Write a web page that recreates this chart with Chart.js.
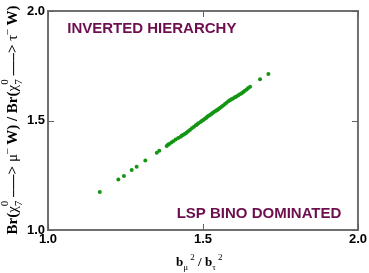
<!DOCTYPE html>
<html>
<head>
<meta charset="utf-8">
<script src="https://cdn.jsdelivr.net/npm/chart.js@4.4.1/dist/chart.umd.min.js"></script>
<style>
  html, body { margin: 0; padding: 0; background: #ffffff; }
  #wrap { width: 369px; height: 273px; position: relative; }
</style>
</head>
<body>
<div id="wrap"><canvas id="c" width="369" height="273"></canvas></div>
<script>
// ---- data ----
const ratioB = [1.167, 1.227, 1.245, 1.270, 1.286, 1.314, 1.351, 1.359, 1.383, 1.387, 1.391, 1.398, 1.404, 1.412, 1.420, 1.428, 1.432, 1.437, 1.442, 1.447, 1.452, 1.458, 1.464, 1.471, 1.477, 1.481, 1.485, 1.492, 1.496, 1.501, 1.505, 1.510, 1.513, 1.517, 1.521, 1.525, 1.529, 1.533, 1.538, 1.542, 1.546, 1.549, 1.554, 1.560, 1.565, 1.571, 1.576, 1.582, 1.587, 1.592, 1.597, 1.603, 1.608, 1.614, 1.619, 1.625, 1.630, 1.635, 1.641, 1.646, 1.652, 1.684, 1.711];
const ratioBr = [1.173, 1.231, 1.247, 1.274, 1.289, 1.317, 1.353, 1.362, 1.384, 1.389, 1.393, 1.399, 1.405, 1.413, 1.420, 1.426, 1.431, 1.435, 1.440, 1.444, 1.451, 1.457, 1.465, 1.472, 1.478, 1.482, 1.487, 1.493, 1.498, 1.502, 1.507, 1.511, 1.516, 1.521, 1.524, 1.527, 1.532, 1.536, 1.541, 1.545, 1.548, 1.551, 1.557, 1.563, 1.569, 1.575, 1.581, 1.588, 1.592, 1.597, 1.601, 1.606, 1.610, 1.615, 1.620, 1.624, 1.630, 1.636, 1.642, 1.648, 1.654, 1.688, 1.712];
const xTicks = [1.0, 1.5, 2.0];
const yTicks = [1.0, 1.5, 2.0];
const notes = [
  { text: 'INVERTED HIERARCHY', x: 1.062, y: 1.920 },
  { text: 'LSP BINO DOMINATED', x: 1.415, y: 1.075 }
];

const points = ratioB.map((v, i) => ({ x: v, y: ratioBr[i] }));

const SERIF = '"Liberation Serif", "Times New Roman", serif';
const SANS = '"Liberation Sans", Arial, Helvetica, sans-serif';

function richWidth(ctx, segs) {
  let w = 0;
  for (const s of segs) {
    ctx.font = s.font;
    if (s.t !== undefined) w += ctx.measureText(s.t).width;
    else w += Math.max(ctx.measureText(s.sup).width, ctx.measureText(s.sub).width);
  }
  return w;
}
function drawRich(ctx, segs, x, y) {
  let cx = x;
  ctx.textBaseline = 'alphabetic';
  ctx.textAlign = 'left';
  for (const s of segs) {
    ctx.font = s.font;
    if (s.t !== undefined) {
      ctx.fillText(s.t, cx, y + (s.dy || 0));
      cx += ctx.measureText(s.t).width;
    } else {
      ctx.fillText(s.sup, cx, y - s.up);
      ctx.fillText(s.sub, cx, y + s.down);
      cx += Math.max(ctx.measureText(s.sup).width, ctx.measureText(s.sub).width);
    }
  }
}

const frame = {
  id: 'frame',
  beforeDatasetsDraw(chart) {
    const { ctx, chartArea: a, scales } = chart;
    ctx.save();
    ctx.strokeStyle = '#707070';
    ctx.lineWidth = 2;
    ctx.strokeRect(a.left, a.top, a.right - a.left, a.bottom - a.top);
    ctx.lineWidth = 1;
    ctx.strokeStyle = '#606060';
    const L = 6;
    for (const v of xTicks) {
      const px = Math.round(scales.x.getPixelForValue(v)) + 0.5;
      ctx.beginPath();
      ctx.moveTo(px, a.bottom); ctx.lineTo(px, a.bottom - L);
      ctx.moveTo(px, a.top); ctx.lineTo(px, a.top + L);
      ctx.stroke();
    }
    for (const v of yTicks) {
      const py = Math.round(scales.y.getPixelForValue(v)) + 0.5;
      ctx.beginPath();
      ctx.moveTo(a.left, py); ctx.lineTo(a.left + L, py);
      ctx.moveTo(a.right, py); ctx.lineTo(a.right - L, py);
      ctx.stroke();
    }
    ctx.fillStyle = '#6d0f4e';
    ctx.font = 'bold 15px ' + SANS;
    ctx.textAlign = 'left';
    ctx.textBaseline = 'middle';
    for (const n of notes) {
      ctx.fillText(n.text, scales.x.getPixelForValue(n.x), scales.y.getPixelForValue(n.y));
    }
    ctx.restore();
  },
  afterDraw(chart) {
    const { ctx, chartArea: a } = chart;
    ctx.save();
    ctx.fillStyle = '#000';
    const B = 'bold 13px ' + SERIF;
    const S = '9px ' + SERIF;
    const xs = [
      { t: 'b', font: B },
      { t: '\u03bc', font: S, dy: 4 },
      { t: ' ', font: S },
      { t: '2', font: S, dy: -6 },
      { t: ' / ', font: B },
      { t: 'b', font: B },
      { t: '\u03c4', font: S, dy: 4 },
      { t: ' ', font: S },
      { t: '2', font: S, dy: -6 }
    ];
    const xw = richWidth(ctx, xs);
    drawRich(ctx, xs, 176, 266);
    const YB = 'bold 15px ' + SERIF;
    const YN = '15px ' + SERIF;
    const YS = '11px ' + SERIF;
    const arrow = '\u2013\u2013\u2013>';
    const ys = [
      { t: 'Br(', font: YB },
      { t: '\u03c7', font: YN },
      { sup: '0', sub: '7', font: YS, up: 9, down: 5 },
      { t: ' ' + arrow + ' ', font: YB },
      { t: '\u03bc', font: YN },
      { t: '\u2013', font: YS, dy: -7 },
      { t: ' W) / Br(', font: YB },
      { t: '\u03c7', font: YN },
      { sup: '0', sub: '7', font: YS, up: 9, down: 5 },
      { t: ' ' + arrow + ' ', font: YB },
      { t: '\u03c4', font: YN },
      { t: '\u2013', font: YS, dy: -7 },
      { t: ' W)', font: YB }
    ];
    const yw = richWidth(ctx, ys);
    ctx.translate(17, 120);
    ctx.rotate(-Math.PI / 2);
    drawRich(ctx, ys, -yw / 2, 0);
    ctx.restore();
  }
};

new Chart(document.getElementById('c'), {
  type: 'scatter',
  data: {
    datasets: [{
      data: points,
      backgroundColor: '#149614',
      borderColor: '#149614',
      pointRadius: 2,
      pointBorderWidth: 0
    }]
  },
  options: {
    responsive: false,
    animation: false,
    devicePixelRatio: 1,
    layout: { padding: { top: 11, right: 11, left: 0, bottom: 0 } },
    plugins: { legend: { display: false }, tooltip: { enabled: false } },
    scales: {
      x: {
        type: 'linear', min: 1, max: 2,
        afterFit(s) { s.height = 43; },
        afterBuildTicks(s) { s.ticks = xTicks.map(v => ({ value: v })); },
        grid: { display: false, drawTicks: false },
        border: { display: false },
        ticks: {
          padding: 2, color: '#000',
          font: { family: SANS, size: 13, weight: 'bold' },
          callback: v => v.toFixed(1),
          maxRotation: 0, autoSkip: false
        }
      },
      y: {
        type: 'linear', min: 1, max: 2,
        afterFit(s) { s.width = 48; },
        afterBuildTicks(s) { s.ticks = yTicks.map(v => ({ value: v })); },
        grid: { display: false, drawTicks: false },
        border: { display: false },
        ticks: {
          padding: 3, color: '#000',
          font: { family: SANS, size: 13, weight: 'bold' },
          callback: v => v.toFixed(1),
          autoSkip: false
        }
      }
    }
  },
  plugins: [frame]
});
</script>
</body>
</html>
